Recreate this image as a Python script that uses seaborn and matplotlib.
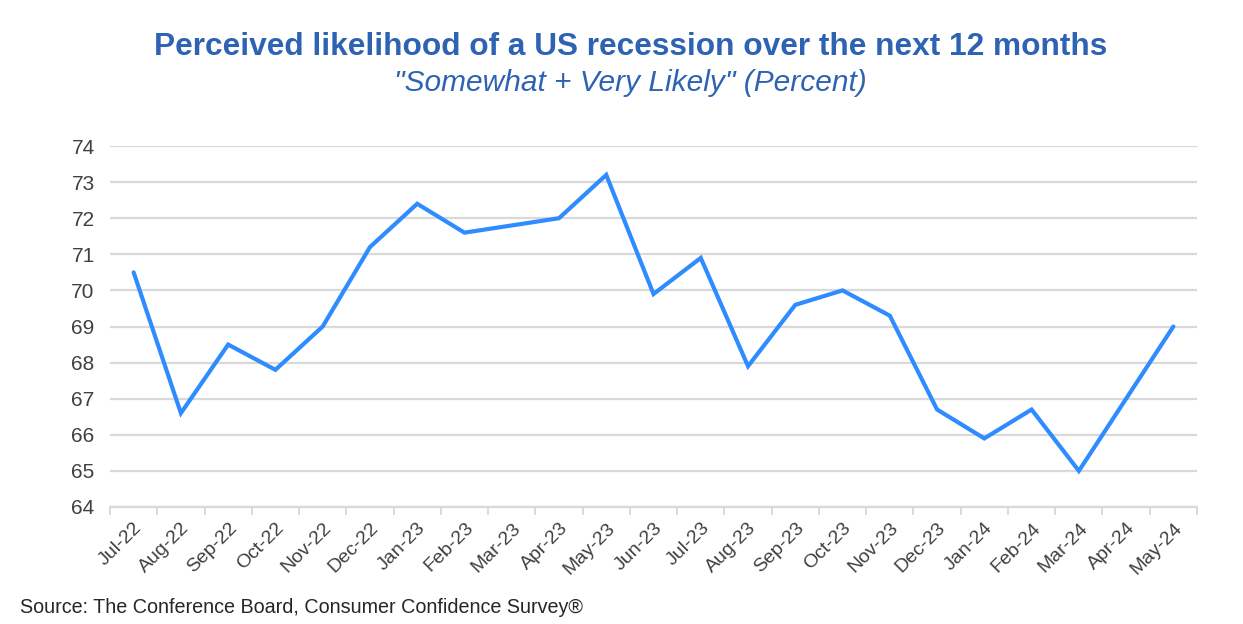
import matplotlib
matplotlib.use("Agg")
import matplotlib.pyplot as plt
import seaborn as sns
import pandas as pd
import numpy as np

months = ["Jul-22", "Aug-22", "Sep-22", "Oct-22", "Nov-22", "Dec-22", "Jan-23", "Feb-23",
          "Mar-23", "Apr-23", "May-23", "Jun-23", "Jul-23", "Aug-23", "Sep-23", "Oct-23",
          "Nov-23", "Dec-23", "Jan-24", "Feb-24", "Mar-24", "Apr-24", "May-24"]
likely = [70.5, 66.6, 68.5, 67.8, 69.0, 71.2, 72.4, 71.6, 71.8, 72.0, 73.2, 69.9,
          70.9, 67.9, 69.6, 70.0, 69.3, 66.7, 65.9, 66.7, 65.0, 67.0, 69.0]
yticks = list(range(64, 75))

title = "Perceived likelihood of a US recession over the next 12 months"
subtitle = "\"Somewhat + Very Likely\" (Percent)"
source = "Source: The Conference Board, Consumer Confidence Survey®"

sns.set_theme(style="white")
plt.rcParams["font.family"] = ["Liberation Sans", "DejaVu Sans"]

df = pd.DataFrame({"idx": np.arange(len(months)), "value": likely})

fig = plt.figure(figsize=(12.43, 6.24), dpi=100)
ax = fig.add_axes([0.0885, 0.1875, 0.8745, 0.5785])

ax.yaxis.grid(True, color="#d9d9d9", linewidth=1.6)
ax.set_axisbelow(True)
sns.lineplot(data=df, x="idx", y="value", ax=ax, color="#2F8CFF", linewidth=3.0,
             solid_joinstyle="miter")

ax.set_xlim(-0.5, len(months) - 0.5)
ax.set_ylim(64, 74)
ax.set_yticks(yticks)
ax.set_yticklabels([str(t) for t in yticks])
ax.set_xticks(np.arange(len(months)))
ax.set_xticklabels(months, rotation=45, ha="right", rotation_mode="anchor")
ax.set_xticks(np.arange(len(months) + 1) - 0.5, minor=True)
ax.tick_params(axis="x", which="major", bottom=True, length=0, labelsize=14,
               colors="#404040", pad=9)
ax.tick_params(axis="x", which="minor", bottom=True, length=6, width=1.4,
               color="#d9d9d9", direction="out")
ax.tick_params(axis="y", length=0, labelsize=15, colors="#404040", pad=11)
ax.set_xlabel("")
ax.set_ylabel("")
for s in ["top", "right", "left"]:
    ax.spines[s].set_visible(False)
ax.spines["bottom"].set_color("#d9d9d9")
ax.spines["bottom"].set_linewidth(1.6)

fig.text(0.507, 0.925, title, ha="center", va="center", fontsize=22.8,
         fontweight="bold", color="#2E63B3")
fig.text(0.507, 0.867, subtitle, ha="center", va="center", fontsize=21.5,
         fontstyle="italic", color="#2E63B3")
fig.text(0.016, 0.027, source, ha="left", va="center", fontsize=14.2, color="#262626")

fig.savefig("out.png", dpi=100, facecolor="white")
